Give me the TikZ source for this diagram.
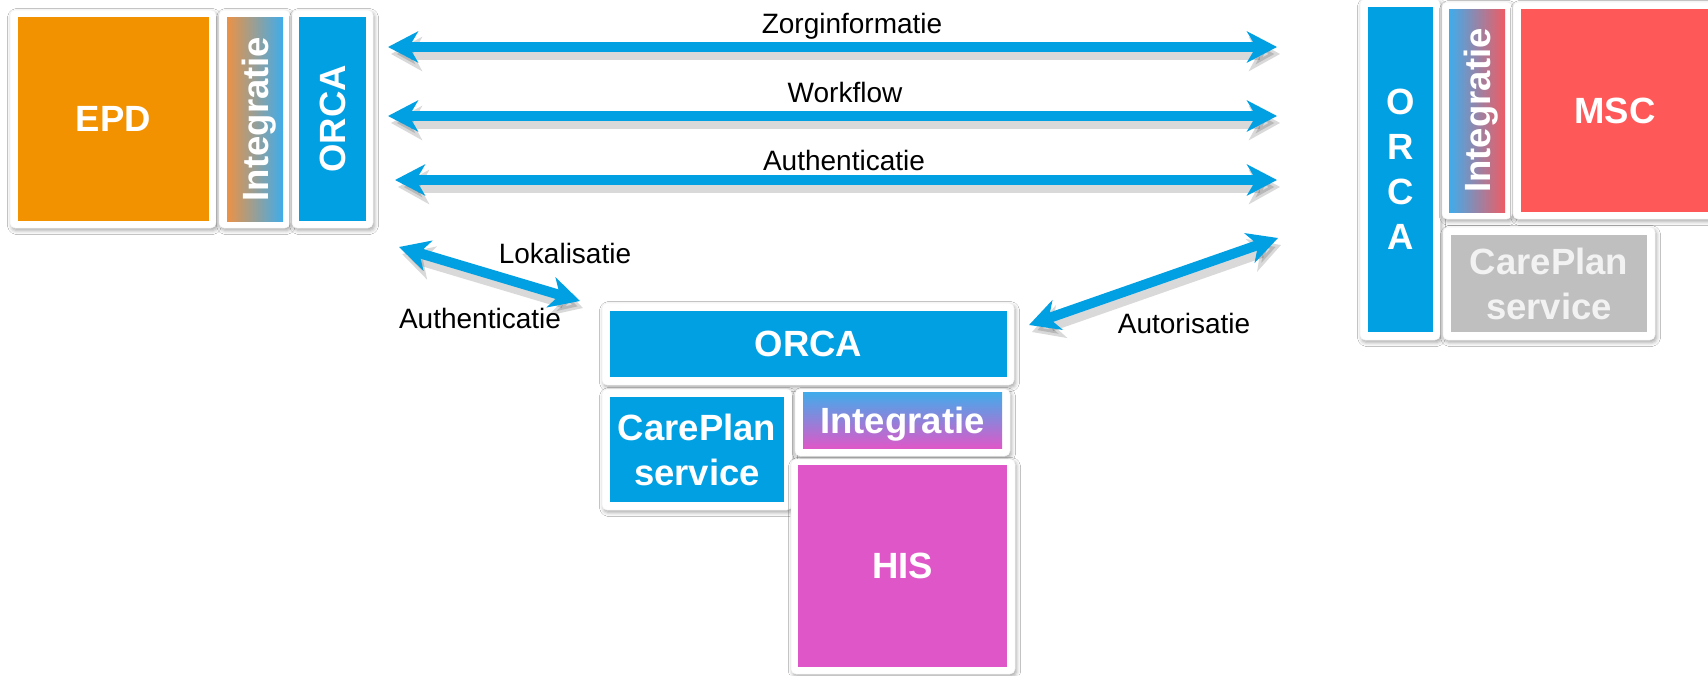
\documentclass[tikz,border=0pt]{standalone}
\usepackage{fontspec}
\setmainfont{Liberation Sans}
\usetikzlibrary{arrows.meta,shadows.blur}
\definecolor{ablue}{RGB}{0,160,227}
\definecolor{aorange}{RGB}{242,146,0}
\definecolor{ared}{RGB}{255,88,88}
\definecolor{amag}{RGB}{223,86,200}
\definecolor{agray}{RGB}{191,191,191}
\definecolor{atxtgray}{RGB}{242,242,242}
\definecolor{gorange}{RGB}{235,146,70}
\definecolor{gblue}{RGB}{64,172,235}
\definecolor{gred}{RGB}{238,92,100}
\definecolor{gmag}{RGB}{222,88,200}
\begin{document}
\begin{tikzpicture}[x=1pt,y=-1pt,
  card/.style={fill=white, rounded corners=5pt, inner sep=0pt, outer sep=0pt,
    draw=black!5, line width=0.5pt,
    blur shadow={shadow xshift=1.5pt, shadow yshift=-2.5pt, shadow blur radius=4pt, shadow opacity=35}},
  blk/.style={inner sep=0pt, outer sep=0pt, text=white, align=center, text depth=0pt,
    font=\fontsize{36.5}{45}\selectfont\bfseries},
  lbl/.style={font=\fontsize{28}{34}\selectfont, text=black, inner sep=0pt, anchor=base},
  flow/.style={draw=ablue, line width=10pt,
    {Stealth[length=30pt,width=31pt,inset=9pt]}-{Stealth[length=30pt,width=31pt,inset=9pt]}},
  flowshadow/.style={draw=black, opacity=0.15, line width=12pt,
    {Stealth[length=31pt,width=34pt,inset=9pt]}-{Stealth[length=31pt,width=34pt,inset=9pt]},
    transform canvas={xshift=3pt,yshift=-7pt}},
]
\fill[white] (0,0) rectangle (1708,675);
\useasboundingbox (0,0) rectangle (1708,675);

% ---------- left group ----------
\node[card, minimum width=206pt, minimum height=218pt] (cEPD) at (113,119) {};
\node[card, minimum width=71pt, minimum height=218pt] (cInt1) at (254.5,119) {};
\node[card, minimum width=81pt, minimum height=218pt] (cOrca1) at (332.5,119) {};
\node[blk, fill=aorange, minimum width=191pt, minimum height=204pt] (epd) at (113.5,119) {EPD};
\node[blk, rotate=90, left color=gorange, right color=gblue, minimum width=204pt, minimum height=56pt] (int1) at (255,119) {Integratie};
\node[blk, rotate=90, fill=ablue, minimum width=204pt, minimum height=67pt] (orca1) at (332.5,119) {ORCA};

% ---------- right group ----------
\node[card, minimum width=80pt, minimum height=341pt] (cOrca2) at (1400,169.5) {};
\node[card, minimum width=70pt, minimum height=217pt] (cInt2) at (1477,110.5) {};
\node[card, minimum width=204pt, minimum height=217pt] (cMsc) at (1615,110.5) {};
\node[card, minimum width=212pt, minimum height=113pt] (cCp2) at (1549,283.5) {};
\node[blk, fill=ablue, minimum width=65pt, minimum height=325pt] (orca2) at (1400.5,169.5) {O\\R\\C\\A};
\node[blk, rotate=90, left color=gblue, right color=gred, minimum width=203pt, minimum height=56pt] (int2) at (1477,110.5) {Integratie};
\node[blk, fill=ared, minimum width=188pt, minimum height=203pt] (msc) at (1615,110.5) {MSC};
\node[blk, fill=agray, text=atxtgray, minimum width=196pt, minimum height=97pt] (cp2) at (1549,283.5) {CarePlan\\service};

% ---------- centre group ----------
\node[card, minimum width=412pt, minimum height=82pt] (cOrca3) at (808,344) {};
\node[card, minimum width=190pt, minimum height=121pt] (cCp3) at (697,449.5) {};
\node[card, minimum width=215pt, minimum height=67pt] (cInt3) at (902.5,422.5) {};
\node[card, minimum width=224pt, minimum height=215pt] (cHis) at (903,566.5) {};
\node[blk, fill=ablue, minimum width=397pt, minimum height=66pt] (orca3) at (808.5,344) {ORCA};
\node[blk, fill=ablue, minimum width=174pt, minimum height=105pt] (cp3) at (697,449.5) {CarePlan\\service};
\node[blk, top color=gblue, bottom color=gmag, minimum width=199pt, minimum height=56pt] (int3) at (902.5,420) {Integratie};
\node[blk, fill=amag, minimum width=209pt, minimum height=202pt] (his) at (902.5,566) {HIS};

% ---------- connector end points ----------
\coordinate (z1l) at (388,47);   \coordinate (z1r) at (1277,47);
\coordinate (z2l) at (388,116);  \coordinate (z2r) at (1277,116);
\coordinate (z3l) at (395,180);  \coordinate (z3r) at (1277,180);
\coordinate (z4a) at (399,247);  \coordinate (z4b) at (580,301);
\coordinate (z5a) at (1029,325); \coordinate (z5b) at (1278,238);

% shadows of the arrows
\draw[flowshadow] (z1l) -- (z1r);
\draw[flowshadow] (z2l) -- (z2r);
\draw[flowshadow] (z3l) -- (z3r);
\draw[flowshadow] (z4a) -- (z4b);
\draw[flowshadow] (z5a) -- (z5b);
% arrows
\draw[flow] (z1l) -- (z1r);
\draw[flow] (z2l) -- (z2r);
\draw[flow] (z3l) -- (z3r);
\draw[flow] (z4a) -- (z4b);
\draw[flow] (z5a) -- (z5b);

% labels
\node[lbl] (lz) at (852,33) {Zorginformatie};
\node[lbl] (lw) at (845,102) {Workflow};
\node[lbl] (la) at (844,170) {Authenticatie};
\node[lbl] (ll) at (565,263) {Lokalisatie};
\node[lbl] (la2) at (480,328) {Authenticatie};
\node[lbl] (lau) at (1184,333) {Autorisatie};
\end{tikzpicture}
\end{document}
